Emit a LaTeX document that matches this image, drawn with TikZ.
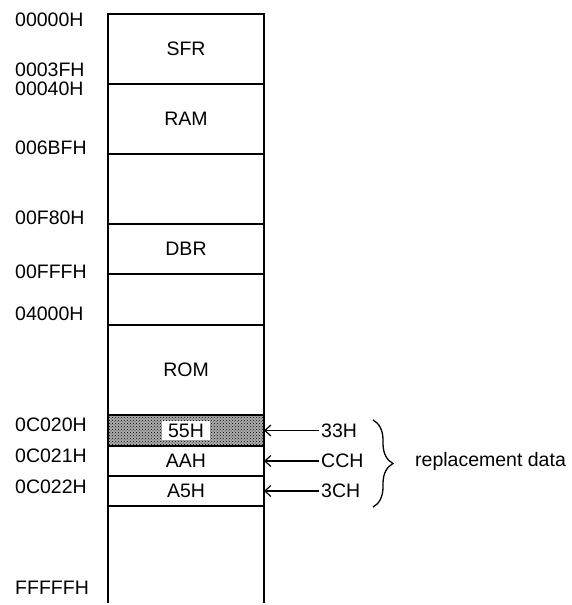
\documentclass[tikz,border=0pt]{standalone}
\usepackage{fontspec}
\setmainfont{Liberation Sans}
\usetikzlibrary{arrows.meta, positioning, patterns, decorations.pathreplacing}

\begin{document}
\begin{tikzpicture}[x=1pt, y=-1pt,
        cell/.style={draw, line width=1.2pt, minimum width=156pt, inner sep=0pt, outer sep=0pt, font=\fontsize{19.5}{22}\selectfont},
        addr/.style={anchor=west, inner sep=0pt, font=\fontsize{19.5}{22}\selectfont},
        val/.style={inner sep=2pt, font=\fontsize{19.5}{22}\selectfont},
        arrow/.style={-{Straight Barb[length=6pt, width=11pt]}, line width=1.2pt},
        brace/.style={decorate, decoration={brace, amplitude=20pt}, line width=1.3pt}
    ]
    \useasboundingbox (0,0) rectangle (571,605);
    % memory map
    \node (sfr) [cell, minimum height=70pt, anchor=north west] at (108,14) {SFR};
    \node (ram) [cell, minimum height=70pt, below=0pt of sfr] {RAM};
    \node (gap1) [cell, minimum height=70pt, below=0pt of ram] {};
    \node (dbr) [cell, minimum height=50pt, below=0pt of gap1] {DBR};
    \node (gap2) [cell, minimum height=51pt, below=0pt of dbr] {};
    \node (rom) [cell, minimum height=90pt, below=0pt of gap2] {ROM};
    \node (c020) [cell, minimum height=31pt, below=0pt of rom, preaction={fill=gray!65}, pattern=crosshatch dots, pattern color=black] {};
    \node (c021) [cell, minimum height=30pt, below=0pt of c020] {AAH};
    \node (c022) [cell, minimum height=30pt, below=0pt of c021] {A5H};
    \node (v55) [fill=white, inner xsep=6pt, inner ysep=3pt, font=\fontsize{19.5}{22}\selectfont] at (c020) {55H};

    \coordinate (bottom) at (0,603);
    \draw [line width=1.2pt] (c022.south west) -- (c022.south west |- bottom);
    \draw [line width=1.2pt] (c022.south east) -- (c022.south east |- bottom);

    % addresses
    \node (a00000) [addr] at (15,20) {00000H};
    \node (a0003f) [addr] at (15,70) {0003FH};
    \node (a00040) [addr] at (15,89) {00040H};
    \node (a006bf) [addr] at (15,148) {006BFH};
    \node (a00f80) [addr] at (15,218) {00F80H};
    \node (a00fff) [addr] at (15,272) {00FFFH};
    \node (a04000) [addr] at (15,314) {04000H};
    \node (a0c020) [addr] at (15,425) {0C020H};
    \node (a0c021) [addr] at (15,456) {0C021H};
    \node (a0c022) [addr] at (15,487) {0C022H};
    \node (afffff) [addr] at (15,588) {FFFFFH};

    % replacement data
    \node (v33) [val, right=55pt of c020] {33H};
    \node (vcc) [val, right=55pt of c021] {CCH};
    \node (v3c) [val, right=55pt of c022] {3CH};
    \draw [arrow] (v33) -- (c020);
    \draw [arrow] (vcc) -- (c021);
    \draw [arrow] (v3c) -- (c022);

    \coordinate (btop) at (373,420);
    \coordinate (bbot) at (373,507);
    \draw [brace] (btop) -- (bbot);
    \node (repl) [val, anchor=west] at (413,461) {replacement data};
\end{tikzpicture}
\end{document}
